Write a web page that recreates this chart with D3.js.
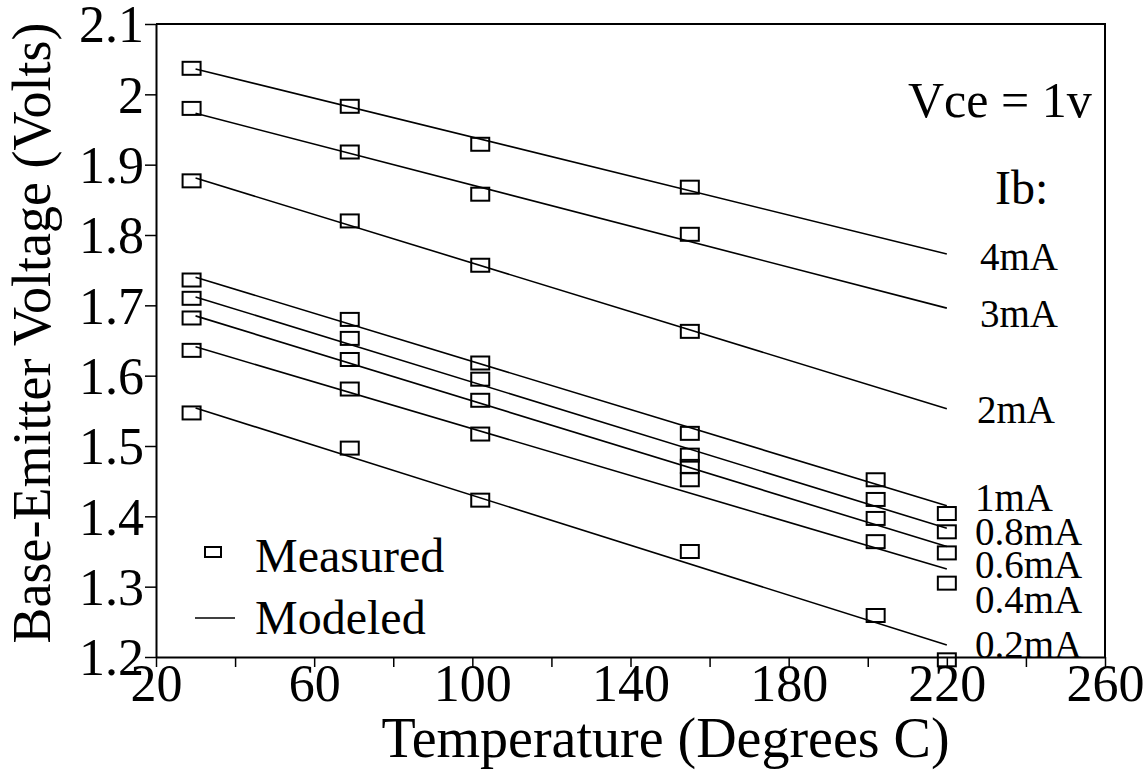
<!DOCTYPE html>
<html>
<head>
<meta charset="utf-8">
<script src="https://cdn.jsdelivr.net/npm/d3@7"></script>
<style>
  html, body { margin: 0; padding: 0; background: #fff; }
  svg { display: block; }
</style>
</head>
<body>
<svg id="chart" width="1146" height="778"></svg>
<script>
// Base-emitter voltage vs temperature at Vce = 1 V, for several base currents.
const currents = ["4mA", "3mA", "2mA", "1mA", "0.8mA", "0.6mA", "0.4mA", "0.2mA"];

// Measurement temperatures (°C)
const tempsUpper = [29, 69, 102, 155];
const tempsLower = [29, 69, 102, 155, 202, 220];

// Measured Vbe (V) per base current
const measured4mA  = [2.037, 1.983, 1.929, 1.868];
const measured3mA  = [1.980, 1.918, 1.858, 1.801];
const measured2mA  = [1.877, 1.820, 1.757, 1.663];
const measured1mA  = [1.736, 1.680, 1.618, 1.518, 1.452, 1.404];
const measured08mA = [1.710, 1.653, 1.595, 1.487, 1.424, 1.378];
const measured06mA = [1.682, 1.623, 1.565, 1.471, 1.397, 1.348];
const measured04mA = [1.636, 1.581, 1.517, 1.452, 1.364, 1.305];
const measured02mA = [1.547, 1.497, 1.423, 1.350, 1.259, 1.196];

// Modeled Vbe (V) at the ends of the modeled temperature range
const modelTemps = [30, 220];
const modeled4mA  = [2.036, 1.773];
const modeled3mA  = [1.973, 1.696];
const modeled2mA  = [1.881, 1.553];
const modeled1mA  = [1.740, 1.415];
const modeled08mA = [1.712, 1.383];
const modeled06mA = [1.685, 1.357];
const modeled04mA = [1.641, 1.325];
const modeled02mA = [1.554, 1.217];

// Axis ticks
const xTicks = [20, 40, 60, 80, 100, 120, 140, 160, 180, 200, 220, 240, 260];
const xTickLabels = [20, 60, 100, 140, 180, 220, 260];
const yTicks = [1.2, 1.3, 1.4, 1.5, 1.6, 1.7, 1.8, 1.9, 2.0, 2.1];

const measuredSets = [measured4mA, measured3mA, measured2mA, measured1mA,
                      measured08mA, measured06mA, measured04mA, measured02mA];
const modeledSets = [modeled4mA, modeled3mA, modeled2mA, modeled1mA,
                     modeled08mA, modeled06mA, modeled04mA, modeled02mA];
const series = currents.map((name, i) => ({
  name,
  temps: i < 3 ? tempsUpper : tempsLower,
  measured: measuredSets[i],
  modeled: modeledSets[i]
}));

const SERIF = "'Liberation Serif', 'Times New Roman', serif";

// Layout
const plot = { left: 156, right: 1105, top: 24, bottom: 657 };
const svg = d3.select("#chart");

const x = d3.scaleLinear().domain([20, 260]).range([plot.left, plot.right]);
const y = d3.scaleLinear().domain([1.2, 2.1]).range([plot.bottom, plot.top]);

// Frame: top and right borders
svg.append("path")
  .attr("d", `M${plot.left},${plot.top}H${plot.right}V${plot.bottom}`)
  .attr("fill", "none").attr("stroke", "#000").attr("stroke-width", 2);

// X axis
const xAxis = svg.append("g")
  .attr("transform", `translate(0,${plot.bottom})`)
  .call(d3.axisBottom(x).tickValues(xTicks).tickSize(10).tickSizeOuter(0)
    .tickFormat(d => xTickLabels.includes(d) ? d : ""));
xAxis.select(".domain").attr("stroke-width", 2);
xAxis.selectAll(".tick line").attr("stroke-width", 1.5);
xAxis.selectAll(".tick text")
  .style("font-family", SERIF).style("font-size", "52px")
  .attr("fill", "#000").attr("dy", null).attr("y", 44);

// Y axis
const yAxis = svg.append("g")
  .attr("transform", `translate(${plot.left},0)`)
  .call(d3.axisLeft(y).tickValues(yTicks).tickSize(11).tickSizeOuter(0)
    .tickFormat(d => String(+d.toFixed(1))));
yAxis.select(".domain").attr("stroke-width", 2);
yAxis.selectAll(".tick line").attr("stroke-width", 1.5);
yAxis.selectAll(".tick text")
  .style("font-family", SERIF).style("font-size", "52px")
  .attr("fill", "#000").attr("x", -12).attr("dy", "0.34em");

// Helper for free-standing labels
function label(xp, yp, size, str, anchor) {
  return svg.append("text")
    .attr("x", xp).attr("y", yp)
    .attr("text-anchor", anchor || "start")
    .style("font-family", SERIF).style("font-size", size + "px")
    .attr("fill", "#000")
    .text(str);
}

// Axis titles
label((plot.left + plot.right) / 2 + 35, 757, 56, "Temperature (Degrees C)", "middle");
label(0, 0, 54, "Base-Emitter Voltage (Volts)", "middle")
  .attr("transform", "translate(50,333) rotate(-90)");

// Modeled lines
const line = d3.line().x(d => x(d[0])).y(d => y(d[1]));
svg.append("g").selectAll("path")
  .data(series).join("path")
  .attr("d", s => line(modelTemps.map((t, i) => [t, s.modeled[i]])))
  .attr("fill", "none").attr("stroke", "#000").attr("stroke-width", 1.6);

// Measured points (open squares)
const boxW = 18, boxH = 13;
svg.append("g").selectAll("g")
  .data(series).join("g")
  .selectAll("rect")
  .data(s => s.temps.map((t, i) => [t, s.measured[i]]))
  .join("rect")
  .attr("x", d => x(d[0]) - boxW / 2).attr("y", d => y(d[1]) - boxH / 2)
  .attr("width", boxW).attr("height", boxH)
  .attr("fill", "none").attr("stroke", "#000").attr("stroke-width", 2);

// Series labels
const labelY = { "4mA": 270, "3mA": 327, "2mA": 423, "1mA": 511,
                 "0.8mA": 545, "0.6mA": 578, "0.4mA": 613, "0.2mA": 658 };
const labelX = { "4mA": 980, "3mA": 980, "2mA": 977 };
series.forEach(s => label(labelX[s.name] || 975, labelY[s.name], 39, s.name));

// Condition annotations
label(908, 117, 50, "Vce = 1v");
label(995, 204, 48, "Ib:");

// Legend
svg.append("rect").attr("x", 205).attr("y", 547).attr("width", 16).attr("height", 10)
  .attr("fill", "none").attr("stroke", "#000").attr("stroke-width", 2);
label(255, 572, 48, "Measured");
svg.append("line").attr("x1", 195).attr("x2", 235).attr("y1", 618).attr("y2", 618)
  .attr("stroke", "#000").attr("stroke-width", 1.6);
label(255, 634, 48, "Modeled");
</script>
</body>
</html>
